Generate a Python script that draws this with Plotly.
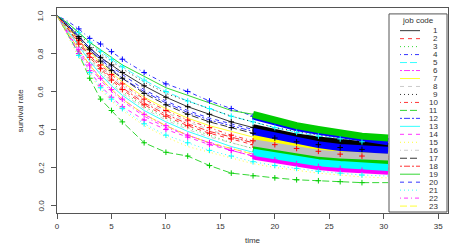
import plotly.graph_objects as go

times = [0, 1, 2, 3, 4, 5, 6, 8, 10, 12, 14, 16, 18, 20, 22, 24, 26, 28, 30.4]

job_codes = [str(i) for i in range(1, 24)]

surv = {
    "1":  [1, .95, .89, .83, .78, .74, .70, .63, .57, .52, .48, .44, .41, .385, .36, .345, .33, .32, .31],
    "2":  [1, .93, .85, .78, .72, .66, .61, .53, .47, .42, .38, .35, .32, .30, .28, .27, .26, .25, .245],
    "3":  [1, .93, .85, .78, .71, .65, .60, .52, .46, .41, .37, .33, .30, .28, .26, .25, .24, .235, .23],
    "4":  [1, .97, .93, .88, .85, .81, .77, .70, .64, .60, .55, .51, .47, .44, .41, .39, .37, .35, .335],
    "5":  [1, .96, .91, .86, .81, .77, .73, .66, .60, .55, .51, .47, .44, .41, .385, .365, .35, .335, .325],
    "6":  [1, .91, .82, .74, .67, .61, .56, .48, .42, .37, .33, .29, .26, .24, .22, .205, .195, .185, .18],
    "7":  [1, .94, .87, .81, .75, .70, .65, .57, .51, .46, .42, .39, .36, .34, .32, .30, .285, .275, .27],
    "8":  [1, .93, .86, .79, .73, .68, .63, .55, .49, .44, .40, .36, .33, .31, .29, .275, .265, .26, .255],
    "9":  [1, .95, .90, .85, .80, .76, .72, .65, .59, .55, .51, .47, .44, .41, .39, .37, .355, .34, .33],
    "10": [1, .94, .87, .80, .74, .69, .64, .56, .50, .45, .41, .37, .34, .32, .30, .285, .27, .26, .255],
    "11": [1, .90, .80, .67, .56, .50, .44, .33, .28, .26, .21, .17, .156, .145, .135, .13, .125, .12, .12],
    "12": [1, .95, .88, .82, .77, .72, .67, .60, .54, .49, .45, .42, .39, .365, .34, .32, .305, .295, .29],
    "13": [1, .92, .84, .76, .69, .63, .58, .50, .44, .39, .35, .31, .28, .26, .24, .225, .215, .205, .20],
    "14": [1, .90, .80, .71, .63, .57, .52, .45, .40, .36, .32, .29, .26, .24, .22, .205, .195, .185, .175],
    "15": [1, .89, .78, .69, .61, .55, .50, .42, .36, .31, .28, .25, .22, .20, .185, .17, .16, .15, .145],
    "16": [1, .92, .84, .77, .70, .64, .59, .51, .45, .40, .36, .33, .30, .28, .26, .245, .235, .225, .22],
    "17": [1, .94, .88, .82, .76, .71, .67, .59, .53, .48, .44, .41, .38, .355, .335, .32, .305, .295, .285],
    "18": [1, .93, .86, .79, .73, .67, .62, .54, .48, .43, .39, .36, .33, .31, .29, .275, .26, .25, .24],
    "19": [1, .96, .91, .86, .82, .78, .74, .68, .62, .58, .54, .50, .48, .45, .42, .40, .38, .365, .355],
    "20": [1, .95, .89, .83, .78, .73, .69, .61, .55, .50, .46, .43, .40, .375, .35, .33, .315, .30, .29],
    "21": [1, .90, .79, .70, .62, .56, .51, .43, .37, .33, .29, .26, .23, .21, .195, .18, .17, .16, .155],
    "22": [1, .91, .81, .73, .66, .60, .55, .47, .41, .37, .33, .30, .27, .25, .23, .215, .20, .19, .185],
    "23": [1, .91, .82, .74, .67, .61, .56, .48, .42, .37, .33, .30, .27, .25, .23, .21, .20, .19, .18],
}

# jobs whose heavy late censoring forms a thick band, and jobs with visible '+' marks
band_jobs = ["19", "4", "1", "12", "7", "8", "2", "3", "13", "6"]
band_from = 18
marked_jobs = ["4", "17", "2", "14", "21", "11", "5", "6", "10", "1"]

x_ticks = [0, 5, 10, 15, 20, 25, 30, 35]
y_ticks = [0.0, 0.2, 0.4, 0.6, 0.8, 1.0]
y_tick_labels = ["0.0", "0.2", "0.4", "0.6", "0.8", "1.0"]

palette = ["#000000", "#FF0000", "#00CD00", "#0000FF", "#00FFFF", "#FF00FF", "#FFFF00", "#BEBEBE"]
dashes = ["solid", "4px,4px", "1px,3px", "1px,3px,4px,3px", "7px,3px", "2px,2px,6px,2px"]

fig = go.Figure()

for i, code in enumerate(job_codes):
    col = palette[i % 8]
    dsh = dashes[i % 6]
    fig.add_trace(go.Scatter(x=times, y=surv[code], mode="lines",
                             line=dict(color=col, width=0.8, dash=dsh),
                             showlegend=False, hoverinfo="skip"))

for code in job_codes:
    i = job_codes.index(code)
    col = palette[i % 8]
    if code in band_jobs:
        xs = [t for t in times if t >= band_from]
        ys = [v for t, v in zip(times, surv[code]) if t >= band_from]
        fig.add_trace(go.Scatter(x=xs, y=ys, mode="lines",
                                 line=dict(color=col, width=7),
                                 showlegend=False, hoverinfo="skip"))
    if code in marked_jobs:
        xs = [t for t in times if 1 < t < 30]
        ys = [v for t, v in zip(times, surv[code]) if 1 < t < 30]
        fig.add_trace(go.Scatter(x=xs, y=ys, mode="markers",
                                 marker=dict(symbol="cross-thin", size=4,
                                             line=dict(color=col, width=1)),
                                 showlegend=False, hoverinfo="skip"))

# legend drawn by hand (R-style compact legend)
shapes = []
annotations = []
L, R, T, B = 389, 447, 13, 214      # legend box in pixels
W, H = 456, 250
ml, mr, mt, mb = 57, 8, 7, 35
pw, ph = W - ml - mr, H - mt - mb

def px(xp):
    return (xp - ml) / pw

def py(yp):
    return (H - mb - yp) / ph

txt_font = dict(size=8, color="#333333", family="Liberation Sans")

shapes.append(dict(type="rect", xref="paper", yref="paper", x0=px(L), x1=px(R),
                   y0=py(B), y1=py(T), fillcolor="white",
                   line=dict(color="#555555", width=1), layer="above"))
annotations.append(dict(text="job code", xref="paper", yref="paper",
                        x=px((L + R) / 2), y=py(20), showarrow=False,
                        font=txt_font, xanchor="center", yanchor="middle"))
for i, code in enumerate(job_codes):
    yy = 30 + i * 8.09
    shapes.append(dict(type="line", xref="paper", yref="paper",
                       x0=px(400), x1=px(420), y0=py(yy), y1=py(yy),
                       line=dict(color=palette[i % 8], width=0.8, dash=dashes[i % 6]),
                       layer="above"))
    annotations.append(dict(text=code, xref="paper", yref="paper",
                            x=px(440), y=py(yy), showarrow=False,
                            font=txt_font, xanchor="right", yanchor="middle"))

# R-style vertical y tick labels, placed through the y scale
for v, lab in zip(y_ticks, y_tick_labels):
    annotations.append(dict(text=lab, xref="paper", yref="y", x=px(41), y=v,
                            showarrow=False, textangle=-90, font=txt_font,
                            xanchor="center", yanchor="middle"))
annotations.append(dict(text="survival rate", xref="paper", yref="paper",
                        x=px(20), y=0.5, showarrow=False, textangle=-90,
                        font=txt_font, xanchor="center", yanchor="middle"))

fig.update_layout(
    width=W, height=H,
    margin=dict(l=ml, r=mr, t=mt, b=mb),
    paper_bgcolor="white", plot_bgcolor="white",
    shapes=shapes, annotations=annotations,
    font=dict(family="Liberation Sans", size=8, color="#333333"),
    showlegend=False,
)
fig.update_xaxes(range=[0, 35.9], tickvals=x_ticks, ticks="outside", ticklen=5,
                 tickcolor="#555555", showline=True, linecolor="#555555", mirror=True,
                 showgrid=False, zeroline=False,
                 title=dict(text="time", font=dict(size=8), standoff=7),
                 tickfont=dict(size=8))
fig.update_yaxes(range=[-0.04, 1.04], tickvals=y_ticks, showticklabels=False,
                 ticks="outside", ticklen=5,
                 tickcolor="#555555", showline=True, linecolor="#555555", mirror=True,
                 showgrid=False, zeroline=False)

fig.write_html("out.html")
